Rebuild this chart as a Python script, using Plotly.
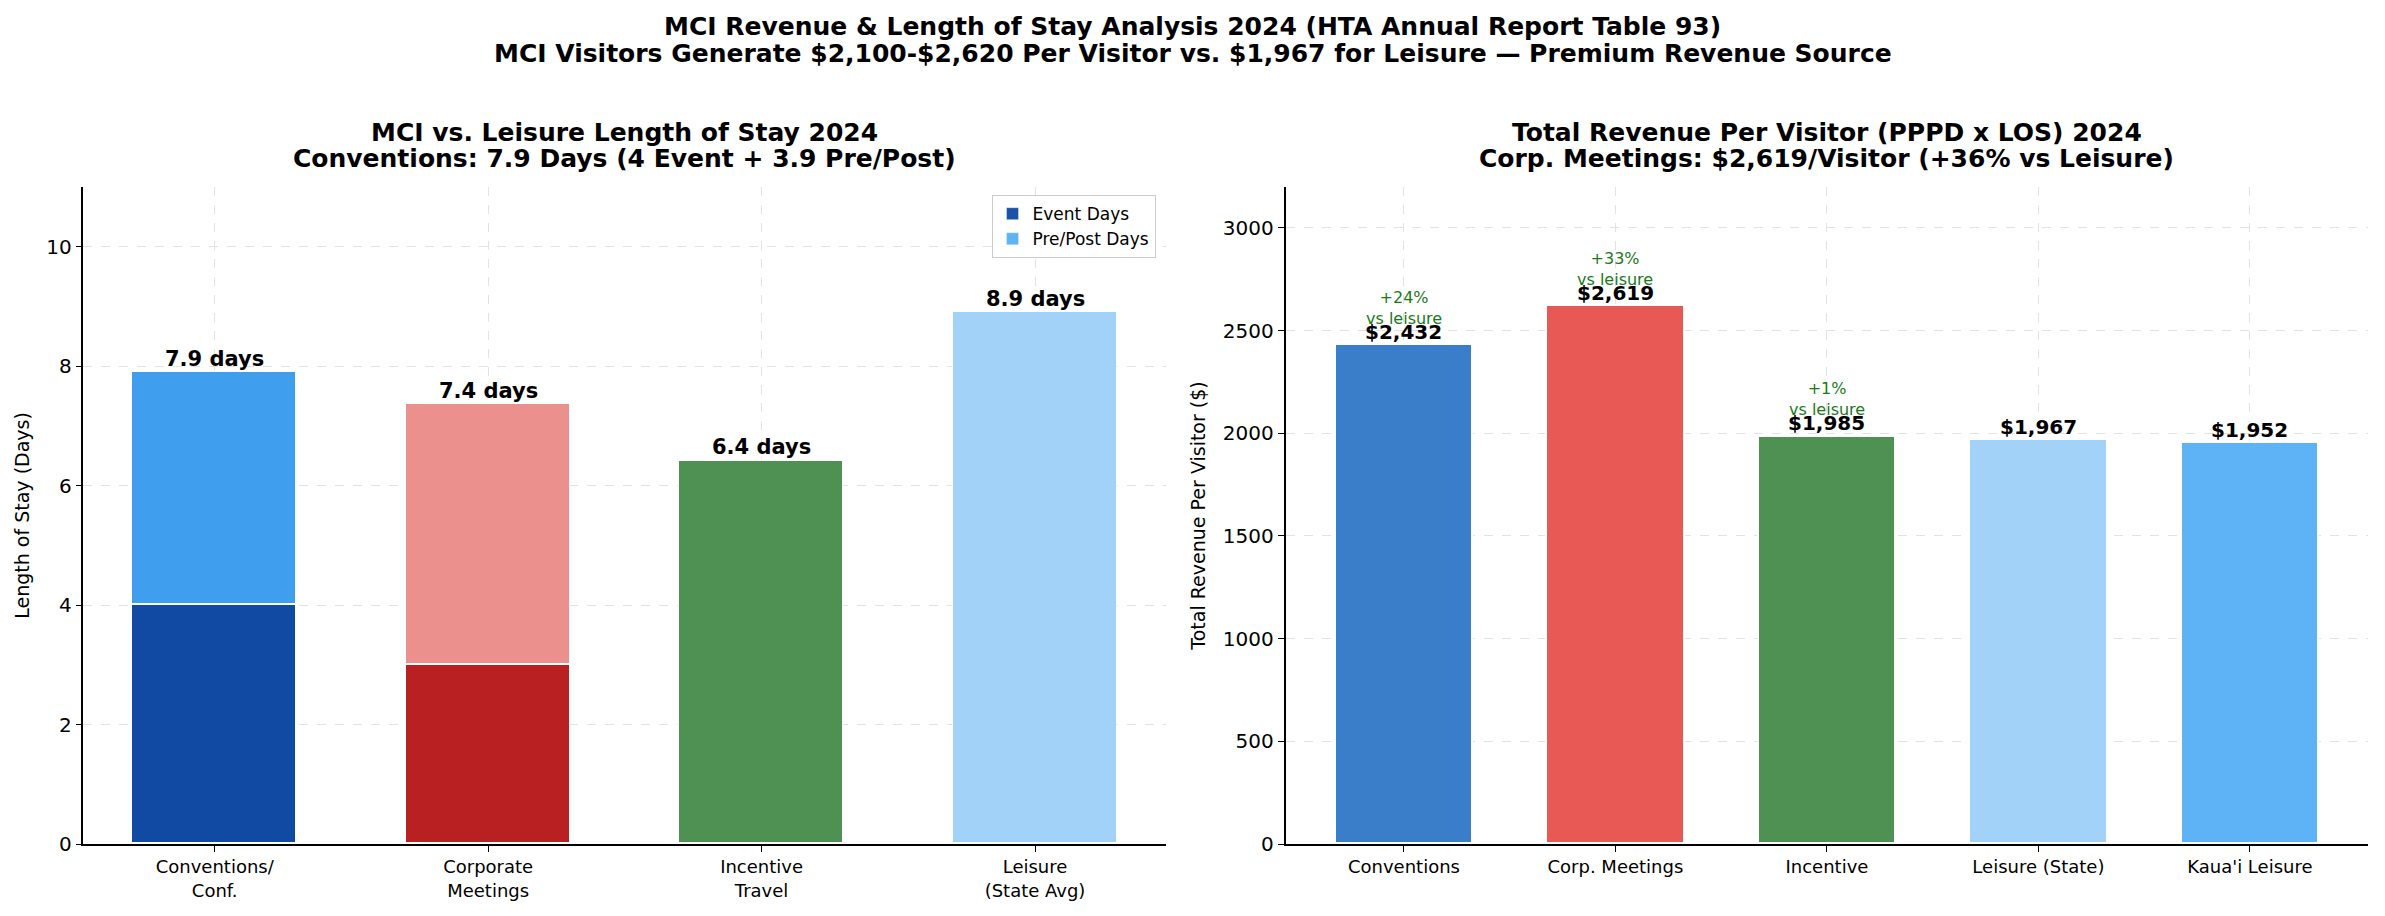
import plotly.graph_objects as go

# ---- data ----
los_categories = ["Conventions/<br>Conf.", "Corporate<br>Meetings", "Incentive<br>Travel", "Leisure<br>(State Avg)"]
event_days = [4.0, 3.0, None, None]
prepost_days = [3.9, 4.36, None, None]
single_days = [None, None, 6.42, 8.9]
los_labels = ["7.9 days", "7.4 days", "6.4 days", "8.9 days"]

rev_categories = ["Conventions", "Corp. Meetings", "Incentive", "Leisure (State)", "Kaua'i Leisure"]
rev_values = [2432, 2619, 1985, 1967, 1952]
rev_labels = ["$2,432", "$2,619", "$1,985", "$1,967", "$1,952"]
vs_leisure = ["+24%<br>vs leisure", "+33%<br>vs leisure", "+1%<br>vs leisure", None, None]

event_colors = ["#104aa3", "#b82022"]
prepost_colors = ["#409eee", "#ec908e"]
single_colors = ["#4f9153", "#a3d2f9"]
rev_colors = ["#3a7dc9", "#e85855", "#4f9153", "#a3d2f9", "#5eb3f6"]

FONT = "DejaVu Sans"
fig = go.Figure()

# left: stacked LOS
fig.add_trace(go.Bar(x=los_categories[:2], y=event_days[:2], name="Event Days",
                     marker=dict(color=event_colors, line=dict(color="white", width=1.5)),
                     width=0.6, xaxis="x", yaxis="y", showlegend=False))
fig.add_trace(go.Bar(x=los_categories[:2], y=prepost_days[:2], name="Pre/Post Days",
                     marker=dict(color=prepost_colors, line=dict(color="white", width=1.5)),
                     width=0.6, xaxis="x", yaxis="y", showlegend=False))
fig.add_trace(go.Bar(x=los_categories[2:], y=single_days[2:], name="single",
                     marker=dict(color=single_colors, line=dict(color="white", width=1.5)),
                     width=0.6, xaxis="x", yaxis="y", showlegend=False))
# legend proxies
fig.add_trace(go.Bar(x=[None], y=[None], name="Event Days", marker_color="#1a52a8", showlegend=True, xaxis="x", yaxis="y"))
fig.add_trace(go.Bar(x=[None], y=[None], name="Pre/Post Days", marker_color="#5fb3f5", showlegend=True, xaxis="x", yaxis="y"))

# right: revenue
fig.add_trace(go.Bar(x=rev_categories, y=rev_values, marker=dict(color=rev_colors, line=dict(color="white", width=1.5)),
                     width=0.65, xaxis="x2", yaxis="y2", showlegend=False))

fig.update_layout(barmode="stack")

annotations = []
los_totals = [event_days[0] + prepost_days[0], event_days[1] + prepost_days[1], single_days[2], single_days[3]]
for c, t, lab in zip(los_categories, los_totals, los_labels):
    annotations.append(dict(x=c, y=t, xref="x", yref="y", text=f"<b>{lab}</b>", showarrow=False,
                            xanchor="center", yanchor="bottom", yshift=-1, font=dict(family=FONT, size=21, color="black")))
for c, v, lab, vs in zip(rev_categories, rev_values, rev_labels, vs_leisure):
    annotations.append(dict(x=c, y=v, xref="x2", yref="y2", text=f"<b>{lab}</b>", showarrow=False,
                            xanchor="center", yanchor="bottom", yshift=-1, font=dict(family=FONT, size=20, color="black")))
    if vs:
        annotations.append(dict(x=c, y=v, xref="x2", yref="y2", text=vs, showarrow=False,
                                xanchor="center", yanchor="bottom", yshift=15, font=dict(family=FONT, size=16, color="#1a7a1a")))

# titles
annotations.append(dict(x=0.5, y=1 - 26 / 916, xref="paper", yref="paper", showarrow=False, xanchor="center",
                        text="<b>MCI Revenue & Length of Stay Analysis 2024 (HTA Annual Report Table 93)</b>",
                        font=dict(family=FONT, size=25, color="black"), yanchor="middle"))
annotations.append(dict(x=0.5, y=1 - 53 / 916, xref="paper", yref="paper", showarrow=False, xanchor="center",
                        text="<b>MCI Visitors Generate $2,100-$2,620 Per Visitor vs. $1,967 for Leisure — Premium Revenue Source</b>",
                        font=dict(family=FONT, size=25, color="black"), yanchor="middle"))
for xc, l1, l2 in [(0.262, "MCI vs. Leisure Length of Stay 2024", "Conventions: 7.9 Days (4 Event + 3.9 Pre/Post)"),
                   (0.766, "Total Revenue Per Visitor (PPPD x LOS) 2024", "Corp. Meetings: $2,619/Visitor (+36% vs Leisure)")]:
    annotations.append(dict(x=xc, y=1 - 132 / 916, xref="paper", yref="paper", showarrow=False, xanchor="center",
                            text=f"<b>{l1}</b>", font=dict(family=FONT, size=25, color="black"), yanchor="middle"))
    annotations.append(dict(x=xc, y=1 - 158 / 916, xref="paper", yref="paper", showarrow=False, xanchor="center",
                            text=f"<b>{l2}</b>", font=dict(family=FONT, size=25, color="black"), yanchor="middle"))

grid = dict(showgrid=True, gridcolor="#e3e3e3", griddash="dash", gridwidth=1)
common_x = dict(showline=True, linecolor="black", linewidth=1.5, ticks="outside", ticklen=6, tickcolor="black",
                tickfont=dict(family=FONT, size=18, color="black"), zeroline=False, automargin=False, **grid)
common_y = dict(showline=True, linecolor="black", linewidth=1.5, ticks="outside", ticklen=6, tickcolor="black",
                tickfont=dict(family=FONT, size=20, color="black"), zeroline=False, automargin=False, **grid)

fig.update_layout(
    width=2385, height=916,
    paper_bgcolor="white", plot_bgcolor="white",
    margin=dict(l=0, r=0, t=0, b=0),
    font=dict(family=FONT, color="black"),
    bargap=0,
    xaxis=dict(domain=[0.035, 0.489], range=[-0.48, 3.48], type="category", **common_x),
    yaxis=dict(domain=[0.0786, 0.796], range=[0, 11], tickvals=[0, 2, 4, 6, 8, 10],
               title=dict(text="Length of Stay (Days)", font=dict(family=FONT, size=19), standoff=12), **common_y),
    xaxis2=dict(domain=[0.539, 0.993], range=[-0.56, 4.56], type="category", anchor="y2", **common_x),
    yaxis2=dict(domain=[0.0786, 0.796], range=[0, 3200], tickvals=[0, 500, 1000, 1500, 2000, 2500, 3000],
                anchor="x2", title=dict(text="Total Revenue Per Visitor ($)", font=dict(family=FONT, size=19), standoff=12),
                **common_y),
    legend=dict(x=0.4845, y=0.787, xanchor="right", yanchor="top", bgcolor="rgba(255,255,255,0.85)",
                bordercolor="#cccccc", borderwidth=1, font=dict(family=FONT, size=17, color="black"),
                traceorder="normal"),
    annotations=annotations,
)

fig.write_html("out.html")
